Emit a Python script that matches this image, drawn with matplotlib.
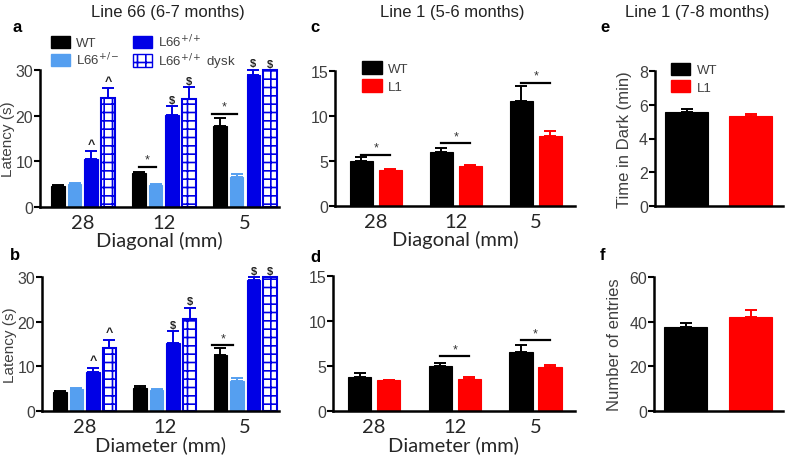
import numpy as np
import matplotlib
matplotlib.use("Agg")
import matplotlib.pyplot as plt
from matplotlib.patches import Patch

plt.rcParams['font.family'] = ['Liberation Sans', 'DejaVu Sans']
plt.rcParams['hatch.linewidth'] = 1.2

# ---- data ----
cats = ['28', '12', '5']

# Line 66, diagonal (a)
a_wt = [4.6, 7.4, 17.7]
a_wt_err = [0.3, 0.3, 1.8]
a_het = [5.0, 4.9, 6.6]
a_het_err = [0.2, 0.2, 0.6]
a_hom = [10.6, 20.1, 29.0]
a_hom_err = [1.6, 2.0, 1.1]
a_dysk = [23.9, 23.7, 30.0]
a_dysk_err = [2.1, 2.5, 0.0]

# Line 66, diameter (b)
b_wt = [4.3, 5.1, 12.5]
b_wt_err = [0.2, 0.5, 1.5]
b_het = [5.0, 4.8, 6.7]
b_het_err = [0.1, 0.1, 0.6]
b_hom = [8.7, 15.3, 29.3]
b_hom_err = [1.0, 2.5, 0.7]
b_dysk = [14.0, 20.7, 30.0]
b_dysk_err = [2.0, 2.4, 0.0]

# Line 1, diagonal (c) and diameter (d)
c_wt = [5.0, 6.0, 11.7]
c_wt_err = [0.4, 0.45, 1.6]
c_l1 = [4.0, 4.5, 7.8]
c_l1_err = [0.06, 0.1, 0.5]
d_wt = [3.8, 4.95, 6.6]
d_wt_err = [0.4, 0.35, 0.75]
d_l1 = [3.4, 3.55, 4.85]
d_l1_err = [0.1, 0.25, 0.25]

# Line 1, 7-8 months (e, f)
e_vals = [5.6, 5.31]
e_err = [0.17, 0.16]
f_vals = [37.4, 42.1]
f_err = [2.1, 3.1]

BLACK = '#000000'
LBLUE = '#559ff0'
BLUE = '#0000e6'
RED = '#ff0000'
GREY = '#404040'

W, H = 787, 464
fig = plt.figure(figsize=(W / 100, H / 100), dpi=100)


def add_ax(left, right, top, bottom):
    return fig.add_axes([left / W, 1 - bottom / H, (right - left) / W, (bottom - top) / H])


def style(ax, ylim, yticks, xlim):
    ax.set_ylim(*ylim)
    ax.set_xlim(*xlim)
    ax.set_yticks(yticks)
    for s in ['top', 'right']:
        ax.spines[s].set_visible(False)
    for s in ['left', 'bottom']:
        ax.spines[s].set_linewidth(1.8)
    ax.tick_params(axis='y', direction='out', length=4, width=1.5, labelsize=11.5,
                   labelcolor=GREY, pad=1)
    ax.tick_params(axis='x', length=0, pad=5)


def bars(ax, xs, vals, errs, color, width, hatch=None):
    if hatch:
        ax.bar(xs, vals, width, color='white', edgecolor=color, hatch=hatch,
               linewidth=1.5, clip_on=False, zorder=2)
    else:
        ax.bar(xs, vals, width, color=color, edgecolor=color, linewidth=0.8,
               clip_on=False, zorder=2)
    ax.errorbar(xs, vals, yerr=[np.zeros(len(vals)), errs], fmt='none', ecolor=color,
                elinewidth=1.4, capsize=4, capthick=1.4, clip_on=False, zorder=3)


def mark(ax, x, y, s, size=9):
    ax.text(x, y, s, ha='center', va='bottom', fontsize=size, fontweight='bold',
            color='#222222', clip_on=False)


def sig(ax, x0, x1, y, dy):
    ax.plot([x0, x1], [y, y], color='black', lw=1.6, clip_on=False)
    ax.text((x0 + x1) / 2, y + dy, '*', ha='center', va='bottom', fontsize=9,
            color='#333333')


cat_font = dict(family=['Lato', 'DejaVu Sans'], size=14.5, color='#262626')
x = np.arange(3)

# ---------- panels a, b ----------
step4 = 0.206
w4 = 0.168
offs4 = np.array([-1.5, -0.5, 0.5, 1.5]) * step4


def line66(ax, wt, wte, het, hete, hom, home, dy, dye, xlabel):
    bars(ax, x + offs4[0], wt, wte, BLACK, w4)
    bars(ax, x + offs4[1], het, hete, LBLUE, w4)
    bars(ax, x + offs4[2], hom, home, BLUE, w4)
    bars(ax, x + offs4[3], dy, dye, BLUE, w4, hatch='++')
    style(ax, (0, 30), [0, 10, 20, 30], (-0.53, 2.42))
    ax.set_xticks(x)
    ax.set_xticklabels(cats, fontdict=cat_font)
    ax.set_xlabel(xlabel, fontdict=cat_font, labelpad=0)
    ax.set_ylabel('Latency (s)', fontsize=11, color=GREY, labelpad=0)


ax_a = add_ax(40, 279, 71, 208)
line66(ax_a, a_wt, a_wt_err, a_het, a_het_err, a_hom, a_hom_err, a_dysk, a_dysk_err,
       'Diagonal (mm)')
mark(ax_a, 0 + offs4[2], a_hom[0] + a_hom_err[0] + 0.3, '^')
mark(ax_a, 0 + offs4[3], a_dysk[0] + a_dysk_err[0] + 0.3, '^')
for i in [1, 2]:
    mark(ax_a, i + offs4[2], a_hom[i] + a_hom_err[i] + 0.3, '\\$', 8)
    mark(ax_a, i + offs4[3], a_dysk[i] + a_dysk_err[i] + 0.3, '\\$', 8)
sig(ax_a, 1 + offs4[0], 1 + offs4[1], 8.8, 0.2)
sig(ax_a, 2 + offs4[0] - 0.1, 2 + offs4[1], 20.4, 0.2)

leg_handles = [Patch(facecolor=BLACK, edgecolor=BLACK),
               Patch(facecolor=LBLUE, edgecolor=LBLUE),
               Patch(facecolor=BLUE, edgecolor=BLUE),
               Patch(facecolor='white', edgecolor=BLUE, hatch='++')]
leg_labels = ['WT', 'L66$^{+/-}$', 'L66$^{+/+}$', 'L66$^{+/+}$ dysk']
leg = ax_a.legend(leg_handles, leg_labels, ncol=2, loc='upper left',
                  bbox_to_anchor=(0.025, 1.31), frameon=False, fontsize=9.5,
                  handlelength=1.4, handleheight=1.1, handletextpad=0.5,
                  columnspacing=1.0, labelspacing=0.12, borderaxespad=0)
for t in leg.get_texts():
    t.set_color(GREY)

ax_b = add_ax(42, 279, 278, 412)
line66(ax_b, b_wt, b_wt_err, b_het, b_het_err, b_hom, b_hom_err, b_dysk, b_dysk_err,
       'Diameter (mm)')
mark(ax_b, 0 + offs4[2], b_hom[0] + b_hom_err[0] + 0.3, '^')
mark(ax_b, 0 + offs4[3], b_dysk[0] + b_dysk_err[0] + 0.3, '^')
for i in [1, 2]:
    mark(ax_b, i + offs4[2], b_hom[i] + b_hom_err[i] + 0.3, '\\$', 8)
    mark(ax_b, i + offs4[3], b_dysk[i] + b_dysk_err[i] + 0.3, '\\$', 8)
sig(ax_b, 2 + offs4[0] - 0.1, 2 + offs4[1] - 0.05, 14.7, 0.2)

# ---------- panels c, d ----------
step2 = 0.36
w2 = 0.29
offs2 = np.array([-0.5, 0.5]) * step2


def line1(ax, wt, wte, l1, l1e, xlabel):
    bars(ax, x + offs2[0], wt, wte, BLACK, w2)
    bars(ax, x + offs2[1], l1, l1e, RED, w2)
    style(ax, (0, 15), [0, 5, 10, 15], (-0.51, 2.49))
    ax.set_xticks(x)
    ax.set_xticklabels(cats, fontdict=cat_font)
    ax.set_xlabel(xlabel, fontdict=cat_font, labelpad=0)


ax_c = add_ax(335, 575, 72, 207)
line1(ax_c, c_wt, c_wt_err, c_l1, c_l1_err, 'Diagonal (mm)')
sig(ax_c, 0 + offs2[0], 0 + offs2[1], 5.7, 0.1)
sig(ax_c, 1 + offs2[0], 1 + offs2[1], 7.0, 0.1)
sig(ax_c, 2 + offs2[0], 2 + offs2[1], 13.7, 0.1)

lh2 = [Patch(facecolor=BLACK, edgecolor=BLACK), Patch(facecolor=RED, edgecolor=RED)]
leg_c = ax_c.legend(lh2, ['WT', 'L1'], loc='upper left', bbox_to_anchor=(0.09, 1.11),
                    frameon=False, fontsize=9.5, handlelength=1.5, handleheight=1.1,
                    handletextpad=0.5, labelspacing=0.3, borderaxespad=0)
for t in leg_c.get_texts():
    t.set_color(GREY)

ax_d = add_ax(333, 575, 277, 412)
line1(ax_d, d_wt, d_wt_err, d_l1, d_l1_err, 'Diameter (mm)')
sig(ax_d, 1 + offs2[0], 1 + offs2[1], 6.06, 0.1)
sig(ax_d, 2 + offs2[0], 2 + offs2[1], 7.87, 0.1)

# ---------- panels e, f ----------
x2 = np.arange(2)
w1 = 0.67

ax_e = add_ax(655, 783, 72, 207)
bars(ax_e, x2[:1], e_vals[:1], e_err[:1], BLACK, w1)
bars(ax_e, x2[1:], e_vals[1:], e_err[1:], RED, w1)
style(ax_e, (0, 8), [0, 2, 4, 6, 8], (-0.49, 1.5))
ax_e.set_xticks([])
ax_e.set_ylabel('Time in Dark (min)', fontsize=12, color=GREY, labelpad=5)
leg_e = ax_e.legend(lh2, ['WT', 'L1'], loc='upper left', bbox_to_anchor=(0.08, 1.1),
                    frameon=False, fontsize=9.5, handlelength=1.5, handleheight=1.0,
                    handletextpad=0.5, labelspacing=0.3, borderaxespad=0)
for t in leg_e.get_texts():
    t.set_color(GREY)

ax_f = add_ax(654, 783, 278, 412)
bars(ax_f, x2[:1], f_vals[:1], f_err[:1], BLACK, w1)
bars(ax_f, x2[1:], f_vals[1:], f_err[1:], RED, w1)
style(ax_f, (0, 60), [0, 20, 40, 60], (-0.49, 1.5))
ax_f.set_xticks([])
ax_f.set_ylabel('Number of entries', fontsize=12, color=GREY, labelpad=5)

# ---------- titles and panel letters ----------
for txt, cx in [('Line 66 (6-7 months)', 168), ('Line 1 (5-6 months)', 452),
                ('Line 1 (7-8 months)', 697)]:
    fig.text(cx / W, 1 - 13 / H, txt, ha='center', va='center', fontsize=12,
             color='#222222')
for lab, px, py in [('a', 17, 28), ('b', 15, 256), ('c', 315, 28), ('d', 315, 257),
                    ('e', 605, 28), ('f', 603, 256)]:
    fig.text(px / W, 1 - py / H, lab, ha='center', va='center', fontsize=12,
             fontweight='bold')

fig.savefig('out.png', dpi=100)
